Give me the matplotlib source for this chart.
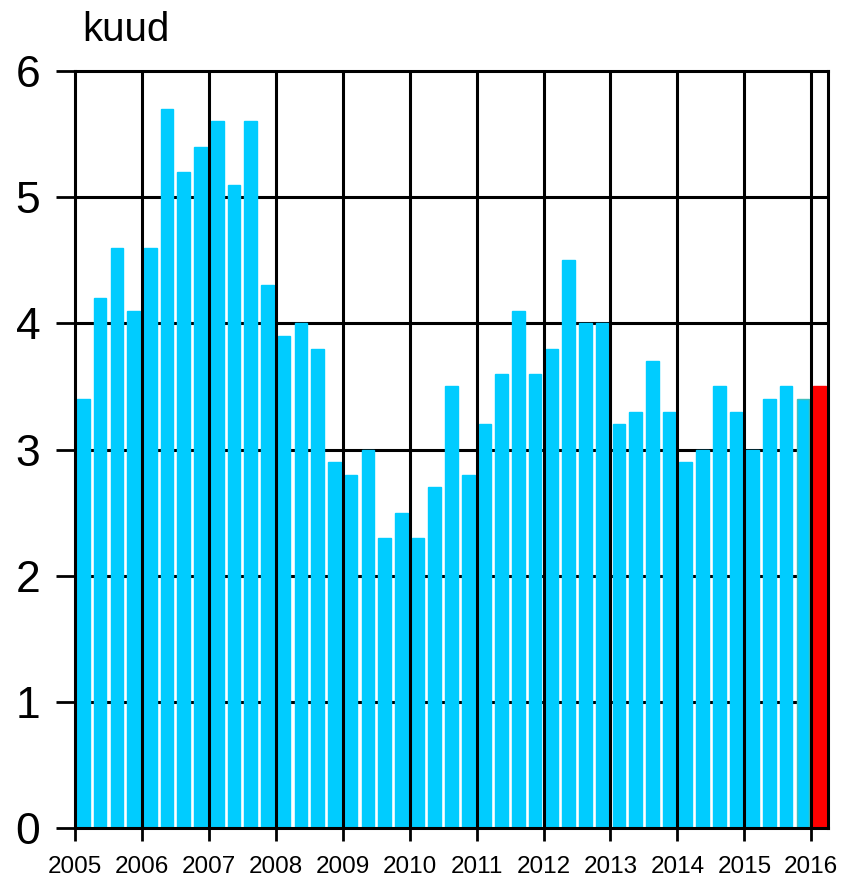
import numpy as np
import matplotlib
matplotlib.use("Agg")
from matplotlib import pyplot as plt

plt.rcParams['font.family'] = ['Liberation Sans', 'DejaVu Sans']

# quarterly values, 2005 Q1 .. 2016 Q1
years = [str(y) for y in range(2005, 2017)]
values = [3.4, 4.2, 4.6, 4.1,
          4.6, 5.7, 5.2, 5.4,
          5.6, 5.1, 5.6, 4.3,
          3.9, 4.0, 3.8, 2.9,
          2.8, 3.0, 2.3, 2.5,
          2.3, 2.7, 3.5, 2.8,
          3.2, 3.6, 4.1, 3.6,
          3.8, 4.5, 4.0, 4.0,
          3.2, 3.3, 3.7, 3.3,
          2.9, 3.0, 3.5, 3.3,
          3.0, 3.4, 3.5, 3.4,
          3.5]
ylabel = "kuud"

n = len(values)
colors = ['#00CCFF'] * n
colors[-1] = '#FF0000'
edges = list(colors)
edges[-2] = '#40C0C0'

fig = plt.figure(figsize=(8.47, 8.81), dpi=100)
ax = fig.add_axes([75/847, 1-828/881, (828-75)/847, (828-71)/881])

x = np.arange(n) + 0.5
ax.bar(x, values, width=0.75, color=colors, edgecolor=edges, linewidth=1, zorder=2)

ax.set_xlim(0, n)
ax.set_ylim(0, 6)

# horizontal grid behind bars
for yv in range(1, 6):
    ax.axhline(yv, color='black', lw=2.2, zorder=1)
# year lines on top
for i in range(1, len(years)):
    ax.axvline(i*4, color='black', lw=2.2, zorder=3)

ax.set_yticks(range(0, 7))
ax.set_yticklabels([str(v) for v in range(0, 7)], fontsize=32)
ax.set_xticks([i*4 for i in range(len(years))])
ax.set_xticklabels(years, fontsize=17.5)

ax.tick_params(axis='y', length=14, width=2, pad=11)
ax.tick_params(axis='x', length=9, width=2, pad=11)
for s in ax.spines.values():
    s.set_linewidth(2.2)
    s.set_zorder(4)

fig.text(82/847, 1-30/881, ylabel, fontsize=29, va='center', ha='left')

fig.savefig("out.png", dpi=100)
